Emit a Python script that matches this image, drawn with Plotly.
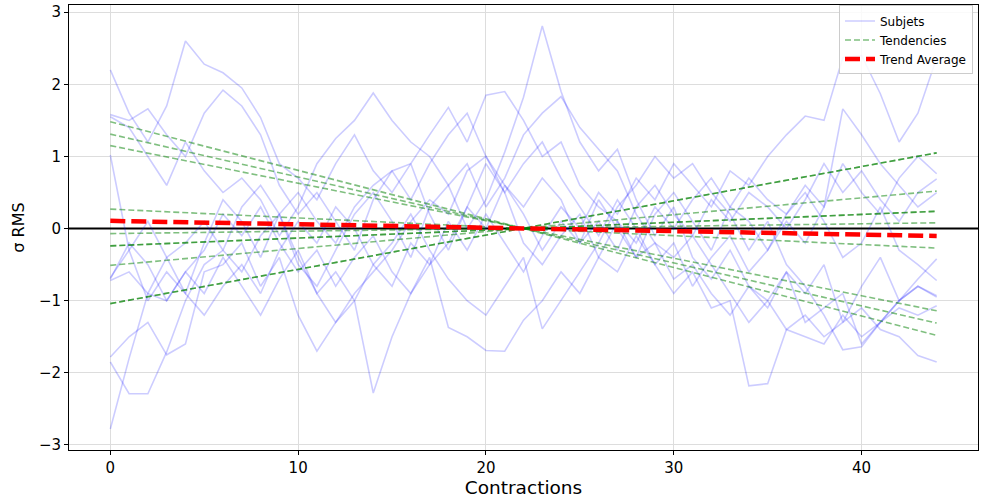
import numpy as np
import plotly.graph_objects as go

contractions = list(range(45))

s1 = [2.2, 1.6, 1.2, 1.7, 2.6, 2.28, 2.16, 1.95, 1.54, 0.9,
      0.7, 0.4, 0.9, 1.3, 0.8, 0.5, 0.9, 0.2, -0.3, 0.3,
      0.9, 0.5, -0.2, -0.5, -0.1, 0.2, -0.4, -0.6, -0.1, -0.5,
      -0.9, -0.6, -1.1, -1.0, -2.18, -2.15, -1.4, -1.2, -1.5, -1.3,
      -1.1, -1.4, -1.5, -1.76, -1.85]
s2 = [1.58, 1.5, 1.66, 1.3, 1.0, 1.6, 1.92, 1.7, 1.3, 0.6,
      0.2, 0.5, 0.1, -0.3, 0.4, 0.8, 0.9, 1.3, 1.68, 1.2,
      1.85, 1.9, 1.5, 1.0, 1.2, 0.6, 0.3, 0.1, -0.4, -0.2,
      -0.7, -0.5, -0.9, -1.2, -0.8, -1.0, -0.6, -1.3, -1.1, -0.9,
      -1.6, -1.3, -1.0, -0.8, -0.93]
s3 = [1.55, 1.4, 1.0, 0.6, 1.2, 0.8, 0.5, 0.7, 0.4, -0.1,
      0.3, 0.9, 1.25, 1.5, 1.88, 1.5, 1.2, 1.0, 0.6, 0.9,
      0.3, 0.7, 1.3, 1.6, 1.83, 1.4, 1.1, 0.8, 0.2, -0.2,
      -0.4, -0.1, -0.5, -0.9, -1.3, -1.0, -1.4, -1.5, -1.6, -1.2,
      -1.5, -1.3, -1.1, -1.2, -1.07]
s4 = [1.02, -0.3, -1.0, -0.6, -0.9, -0.2, 0.4, 0.1, -0.4, 0.2,
      -0.5, -0.8, -0.3, 0.2, 0.5, 0.1, -0.4, 0.3, 0.6, 0.0,
      0.4, 1.06, 1.82, 2.81, 1.9, 1.2, 0.8, 1.1, 0.4, -0.1,
      0.3, -0.4, -0.7, -0.3, -0.8, -1.1, -0.6, -0.9, -0.5, -1.3,
      -0.8, -0.4, -1.0, -0.7, -0.42]
s5 = [-2.78, -1.8, -0.9, -1.0, -0.6, -0.9, -0.4, -0.8, -1.2, -0.7,
      -0.3, -0.9, -0.6, -1.0, -0.5, -0.8, -0.2, -0.5, 0.1, -0.3,
      0.2, -0.2, -0.6, -0.1, 0.3, 0.0, 0.5, 0.2, 0.7, 0.4,
      0.9, 0.6, 0.3, 0.8, 0.6, 1.0, 1.3, 1.56, 1.5, 2.37,
      2.4, 1.87, 1.2, 1.6, 2.37]
s6 = [-1.85, -2.29, -2.29, -1.71, -1.0, -0.5, -0.3, -0.6, -0.1, 0.2,
      -0.4, -0.9, -1.3, -1.0, -2.28, -1.5, -0.9, -0.5, -0.2, 0.3,
      0.0, 0.6, 0.2, -0.3, 0.1, -0.2, 0.4, 0.0, -0.4, 0.2,
      0.5, 0.1, -0.3, 0.3, 0.7, 0.4, 0.2, 0.6, 0.3, 0.9,
      0.5, 0.2, 0.7, 1.0, 0.76]
s7 = [-1.78, -1.5, -1.3, -1.75, -1.6, -0.6, -0.5, -0.2, -0.8, -0.4,
      -1.2, -1.7, -1.3, -0.9, -0.6, -0.3, 0.1, 0.4, 0.2, 0.8,
      1.0, 0.6, 0.3, 0.7, 0.4, -0.2, 0.1, -0.3, 0.3, 0.6,
      0.2, -0.1, 0.4, 0.1, 0.5, 0.3, 0.0, 0.4, 0.9, 0.5,
      0.8, 0.4, 0.1, 0.5, 0.69]
s8 = [-0.7, -0.2, -0.5, -1.0, -0.6, -0.3, 0.2, -0.1, 0.3, -0.2,
      -0.6, -0.3, -0.8, -0.4, -0.1, -0.6, -0.9, -0.4, -1.37, -1.5,
      -1.69, -1.7, -1.27, -1.0, -0.6, -0.9, -0.4, 0.1, -0.2, 0.3,
      0.0, 0.4, 0.7, 0.3, 0.1, -0.3, 0.2, 0.5, 0.1, -0.4,
      -0.2, 0.3, -0.3, -0.5, -0.72]
s9 = [-0.72, -0.6, -0.9, -0.4, -0.2, 0.1, -0.3, 0.3, 0.6, 0.2,
      0.5, 0.1, -0.2, 0.3, 0.6, 0.8, 0.4, 0.9, 1.3, 1.6,
      1.0, 0.5, 0.9, 1.2, 0.7, 0.3, -0.1, 0.4, 0.0, -0.5,
      -0.2, -0.8, -0.4, -0.1, -0.6, -0.3, 0.1, -0.2, 0.3, 1.66,
      1.3, 0.9, 0.6, 0.3, 0.5]
s10 = [-0.68, -0.3, 0.1, -0.4, -0.9, -1.2, -0.8, -0.5, -0.9, -0.3,
       0.1, -0.2, 0.3, 0.0, -0.5, -0.2, 0.2, -0.3, -0.7, -1.0,
       -1.2, -0.8, -0.4, -1.39, -1.0, -0.6, -0.2, 0.3, 0.6, 1.0,
       0.7, 0.9, 0.5, 0.2, -0.3, 0.1, -0.5, -0.8, -1.2, -1.68,
       -1.64, -1.3, -1.0, -0.8, -0.95]

subjects = [s1, s2, s3, s4, s5, s6, s7, s8, s9, s10]

# tendency (linear fit) values at first and last contraction
tend_start = [1.48, 1.31, 1.15, 0.27, -0.07, -0.24, -0.24, -0.51, -1.04, -1.04]
tend_end = [-1.48, -1.31, -1.14, -0.27, 0.08, 0.24, 0.24, 0.52, 1.05, 1.05]

for s in subjects:
    assert len(s) == len(contractions)

x = np.array(contractions, dtype=float)
xn = (x - x[0]) / (x[-1] - x[0])

fig = go.Figure()

# zero reference line
fig.add_trace(go.Scatter(x=[-10, 60], y=[0, 0], mode="lines",
                         line=dict(color="black", width=2),
                         showlegend=False, hoverinfo="skip"))

for i, s in enumerate(subjects):
    fig.add_trace(go.Scatter(x=contractions, y=s, mode="lines",
                             line=dict(color="rgba(0,0,255,0.2)", width=1.6),
                             name="Subjets", legendgroup="subj",
                             showlegend=(i == 0)))

tend_lines = []
for i, (a, b) in enumerate(zip(tend_start, tend_end)):
    y = a + (b - a) * xn
    tend_lines.append(y)
    fig.add_trace(go.Scatter(x=contractions, y=y, mode="lines",
                             line=dict(color="rgba(0,128,0,0.5)", width=1.6, dash="6px,3px"),
                             name="Tendencies", legendgroup="tend",
                             showlegend=(i == 0)))

avg = np.mean(np.array(tend_lines), axis=0)
fig.add_trace(go.Scatter(x=contractions, y=avg, mode="lines",
                         line=dict(color="red", width=4.5, dash="15px,6px"),
                         name="Trend Average"))

font_family = "DejaVu Sans, sans-serif"
fig.update_layout(
    width=981, height=500,
    margin=dict(l=69, r=3, t=5, b=50, autoexpand=False),
    plot_bgcolor="white", paper_bgcolor="white",
    font=dict(family=font_family, color="black", size=15),
    legend=dict(x=0.9945, y=0.999, xanchor="right", yanchor="top",
                bgcolor="rgba(255,255,255,0.85)", bordercolor="#cccccc", borderwidth=1,
                font=dict(size=12), tracegroupgap=0, itemwidth=30),
    xaxis=dict(range=[-2.2, 46.2], tickvals=[0, 10, 20, 30, 40],
               showgrid=True, gridcolor="#dddddd", gridwidth=1,
               showline=True, linecolor="black", linewidth=1, mirror=True,
               ticks="outside", ticklen=4, tickcolor="black",
               zeroline=False, automargin=False,
               title=dict(text="Contractions", font=dict(size=18.5), standoff=1)),
    yaxis=dict(range=[-3.07, 3.1], tickvals=[-3, -2, -1, 0, 1, 2, 3],
               showgrid=True, gridcolor="#dddddd", gridwidth=1,
               showline=True, linecolor="black", linewidth=1, mirror=True,
               ticks="outside", ticklen=4, tickcolor="black",
               zeroline=False, automargin=False,
               title=dict(text="σ RMS", font=dict(size=16), standoff=10)),
)

fig.write_html(
    "out.html",
    config={"displayModeBar": False},
    post_script="document.body.style.margin='0';document.body.style.overflow='hidden';",
)
